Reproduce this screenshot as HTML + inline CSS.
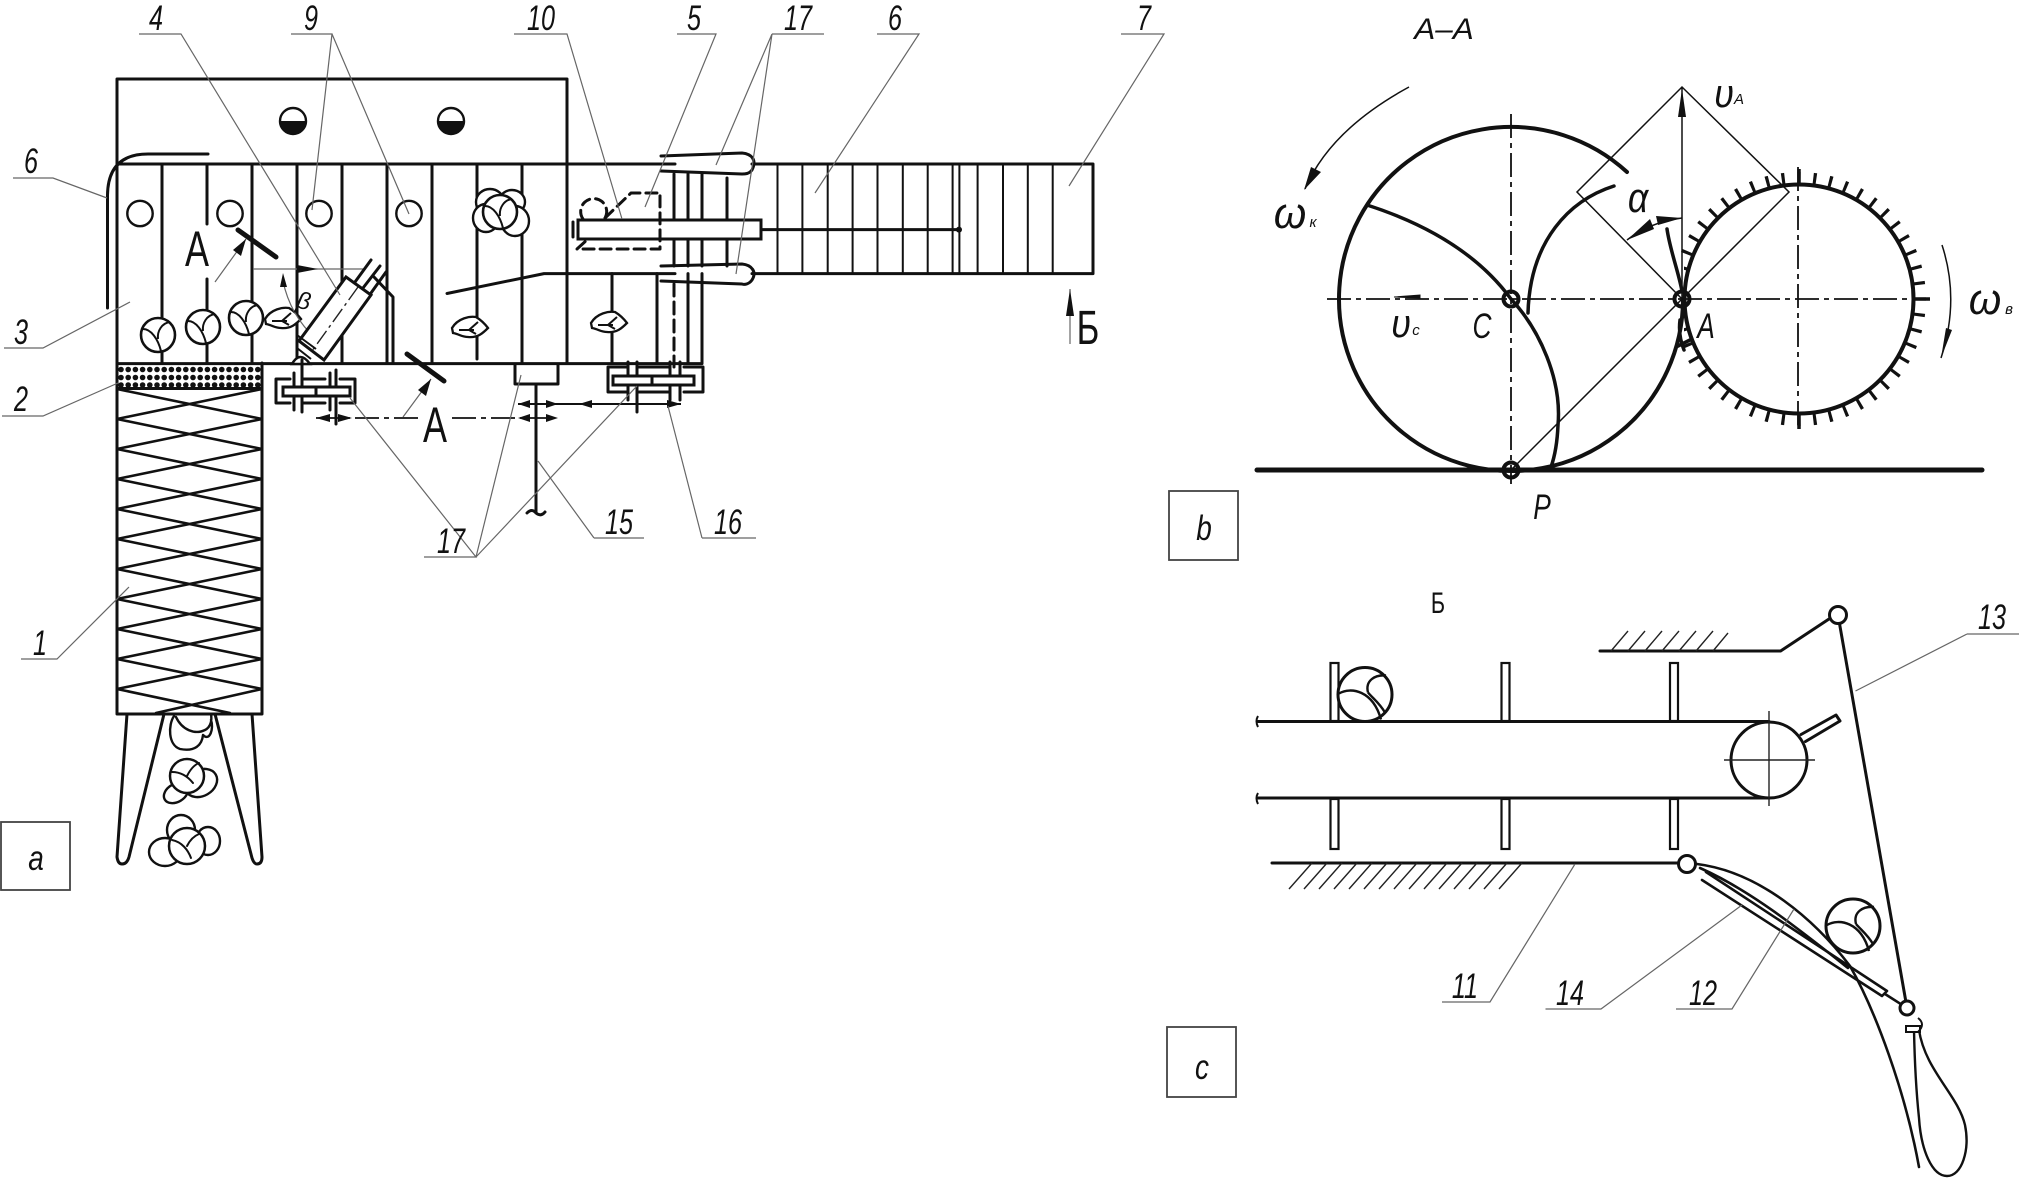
<!DOCTYPE html>
<html><head><meta charset="utf-8"><style>
html,body{margin:0;padding:0;background:#fff}
svg{display:block}
text{font-family:"Liberation Sans",sans-serif;fill:#111}
.l{font-style:italic;font-size:35px;text-anchor:middle}
.s{font-size:50px;text-anchor:middle}
.k{fill:none;stroke:#111;stroke-width:3;stroke-linecap:round;stroke-linejoin:round}
.m{fill:none;stroke:#111;stroke-width:2}
.t{fill:none;stroke:#666;stroke-width:1.2}
.w{fill:#fff;stroke:#111;stroke-width:3}
.d{fill:none;stroke:#111;stroke-width:1.8;stroke-dasharray:24 5 5 5}
.h{fill:none;stroke:#222;stroke-width:1.4}
</style></head><body>
<svg xmlns="http://www.w3.org/2000/svg" width="2020" height="1184" viewBox="0 0 2020 1184">
<defs>
<g id="c"><circle r="17" fill="#fff" stroke="#111" stroke-width="2.6"/><path d="M-15-6C-7-6 0 4 3 16M0 4C-1-4 4-12 12-13" fill="none" stroke="#111" stroke-width="2"/></g>
<g id="c2"><circle r="27" fill="#fff" stroke="#111" stroke-width="3"/><path d="M-26-1C-14-8 8-4 16 25M3-2C0-14 10-20 21-19M3-2C8 4 14 8 20 18" fill="none" stroke="#111" stroke-width="2.400"/></g>
<g id="f"><path d="M-18 1C-12-9 0-11 6-10C11-7 15-3 18 1C13 6 8 11-2 10C-8 10-11 7-17 6Z" fill="#fff" stroke="#111" stroke-width="2.3"/><path d="M-11 3H4M8-5L-1 3L6 7" fill="none" stroke="#111" stroke-width="2"/></g>
<g id="b"><ellipse cx="-10" cy="-10" rx="14" ry="13" fill="#fff" stroke="#111" stroke-width="2.4"/><ellipse cx="12" cy="-10" rx="13" ry="12" fill="#fff" stroke="#111" stroke-width="2.4"/><ellipse cx="15" cy="9" rx="14" ry="15" fill="#fff" stroke="#111" stroke-width="2.4"/><ellipse cx="-14" cy="6" rx="13" ry="14" fill="#fff" stroke="#111" stroke-width="2.4"/><use href="#c"/></g>
</defs>

<!-- main outline -->
<path class="k" d="M117 363V79H567V363M117 164H675M752 164H1093V273.6H752M544 273.6H675M447 293.5L544 273.6M117 363.6H262M262 363.6H702"/>
<!-- dividers -->
<path class="k" d="M162 164V363M207 164V224M207 279V363M252 164V363M297 164V363M342 164V363M387 164V363M432 164V363M477 164V359M522 164V363M612 273.6V363M657 273.6V363M688 273.6V363M702 273.6V363M674 174V220M688 174V220M702 174V220M727 178V220M674 239V266M688 239V266M702 239V266M727 239V266"/>
<path d="M674 284V367" class="k" stroke-dasharray="12 6"/>
<path class="m" d="M777.5 164V273.6M802.4 164V273.6M827.7 164V273.6M852.6 164V273.6M877.5 164V273.6M902.8 164V273.6M927.7 164V273.6M952.6 164V273.6M959.4 164V273.6M977.6 164V273.6M1003 164V273.6M1027.8 164V273.6M1052.7 164V273.6"/>
<!-- guides -->
<path class="k" d="M661 156L742 153C752 154 757 160 752 170C749 174 745 174 742 174L661 171"/>
<path class="k" d="M661 266L742 264C752 265 757 272 752 280C749 284 745 285 742 284L661 281"/>
<!-- bar 10 -->
<rect class="w" x="578" y="220" width="183" height="19"/>
<path class="k" d="M573 222V237M761 229.6H959"/>
<circle cx="959" cy="229.6" r="3" fill="#111"/>
<path class="k" stroke-dasharray="11 6" d="M605 218L631 193H660V249H577L588 239"/>
<path class="k" stroke-dasharray="9 6" d="M583 219A13 13 0 1 1 605 218"/>
<!-- belt 6 -->
<path class="k" d="M208 154H148Q108 154 107.500 195V308"/>
<!-- pods circles -->
<g fill="#fff" stroke="#111" stroke-width="2.4">
<circle cx="140" cy="213.500" r="12.700"/><circle cx="230" cy="213.500" r="12.700"/><circle cx="319" cy="213.500" r="12.700"/><circle cx="409" cy="213.500" r="12.700"/>
<circle cx="293" cy="121" r="13"/><circle cx="451" cy="121" r="13"/></g>
<path d="M280 121H306A13 13 0 0 1 280 121ZM438 121H464A13 13 0 0 1 438 121Z" fill="#111"/>
<use href="#b" x="500" y="212"/>
<use href="#c" x="158" y="335"/><use href="#c" x="203" y="327"/><use href="#c" x="246" y="318"/>
<use href="#f" x="283" y="318"/><use href="#f" x="470" y="327"/><use href="#f" x="609" y="322"/>
<!-- A section marks -->
<text class="s" x="197" y="266" transform="translate(197 0) scale(.72 1) translate(-197 0)">А</text>
<text class="s" x="435" y="442" transform="translate(435 0) scale(.72 1) translate(-435 0)">А</text>
<path d="M238 230L276 257M407 354L444 381" class="k" style="stroke-width:5"/>
<path class="t" d="M215 282L246 239M403 417L431 379"/>
<path d="M246 239L233 250L241 256ZM431 379L418 390L426 396Z" fill="#111"/>
<!-- cylinder 4 -->
<path class="t" d="M253 269H364M283 281Q290 315 316 339"/>
<path d="M297 265L318 269L297 273ZM283 273L280 287L287 287Z" fill="#111"/>
<text class="l" style="font-size:24px" x="304" y="309" transform="rotate(12 304 300)">β</text>
<path class="k" d="M374 277L393 297V363"/>
<path class="k" d="M355 282L371 260M363 288L380 266M371 293L386 272"/>
<path class="w" d="M346 277L371 295L324 360L299 341Z"/>
<path class="h" stroke-dasharray="16 4 3 4" d="M358 287L312 351"/>
<path class="m" d="M297 335L316 349M297 348L311 359"/>
<path d="M292 364Q300 350 310 364Z" fill="#fff" stroke="#111" stroke-width="2.500"/>
<!-- hopper -->
<path class="k" d="M117 363V714H262V363M117 388.500H262"/>
<path stroke="#111" stroke-width="5.600" stroke-linecap="round" stroke-dasharray="0 7.200" d="M121 369.500H260M121 377.500H260M121 385H260" fill="none"/>
<path class="k" style="stroke-width:2.600" d="M117 389L262 419M262 389L117 419M117 419L262 449M262 419L117 449M117 449L262 479M262 449L117 479M117 479L262 509M262 479L117 509M117 509L262 539M262 509L117 539M117 539L262 569M262 539L117 569M117 569L262 599M262 569L117 599M117 599L262 629M262 599L117 629M117 629L262 659M262 629L117 659M117 659L262 689M262 659L117 689M117 689L230 713M262 689L156 713"/>
<path class="k" d="M127 714L117 857Q118 864 122 864Q127 864 129 857L164 714M215 714L252 858Q254 864 257 864Q262 864 262 857L252 714"/>
<!-- hopper cabbages -->
<path class="k" style="stroke-width:2.400" d="M174 716C168 725 168 745 180 749C195 752 202 745 203 735C210 742 214 728 211 720M176 717C182 730 195 735 205 730C211 727 212 720 211 714"/>
<ellipse class="w" style="stroke-width:2.400" cx="176" cy="793" rx="13" ry="9" transform="rotate(-30 176 793)"/>
<ellipse class="w" style="stroke-width:2.400" cx="201" cy="783" rx="17" ry="13" transform="rotate(-30 201 783)"/>
<circle cx="187" cy="776" r="17" class="w" style="stroke-width:2.500"/>
<path class="k" style="stroke-width:2" d="M172 772C182 772 189 778 193 783M187 776C190 770 194 765 199 763"/>
<ellipse class="w" style="stroke-width:2.400" cx="181" cy="830" rx="14" ry="15"/><ellipse class="w" style="stroke-width:2.400" cx="165" cy="852" rx="16" ry="14"/><ellipse class="w" style="stroke-width:2.400" cx="208" cy="841" rx="12" ry="14"/>
<circle cx="187" cy="846" r="18" class="w" style="stroke-width:2.500"/>
<path class="k" style="stroke-width:2" d="M172 840C182 842 188 850 191 858M187 846C190 840 194 836 199 834"/>
<!-- left gearbox -->
<path class="k" d="M290 379H276V403H290M303 379H325M340 379H355V403H340M303 403H325M294 373V410M302 360V412M330 373V410M336 370V424"/>
<rect class="w" x="283" y="387" width="67" height="9"/><path class="k" d="M316 387V396"/>
<!-- right gearbox -->
<path class="k" d="M628 367H608V392H628M639 367H670M684 367H703V392H684M639 392H670M628 362V400M637 362V412M670 362V400M680 362V400"/>
<rect class="w" x="613" y="376" width="81" height="9"/><path class="k" d="M652 376V385"/>
<!-- centre block 15 -->
<path class="k" d="M515 364V384H558V364M536 384V513M527 513Q532 508 536 513Q541 517 545 512"/>
<!-- arrows -->
<path class="m" d="M518 404H681"/>
<path class="d" d="M316 418H418M452 418H558"/>
<path fill="#111" d="M518 404L530 400V408ZM558 404L546 400V408ZM579 404L592 400V408ZM681 404L667 400V408ZM316 418L330 414V422ZM352 418L338 414V422ZM518 418L530 414V422ZM558 418L546 414V422Z"/>
<!-- b arrow -->
<path class="t" d="M1070 289V344"/><path d="M1070 289L1066 316H1074Z" fill="#111"/>
<text class="s" style="font-size:48px" x="1088" y="344" transform="translate(1088 0) scale(.72 1) translate(-1088 0)">Б</text>

<!-- leaders -->
<path class="t" d="M139 34H181L340 295M291 34H332L312 210M332 34L409 214M514 34H567L622 219M677 34H716L645 207M772 34H824M772 34L716 165M772 34L736 274M877 34H919L815 193M1121 34H1164L1069 186M13 178H53L107 198M4 348H43L130 302M2 416H43L118 383M21 659H57L129 587M702 538H756M702 538L668 406M594 538H644M594 538L538 461M424 557H476L350 398M476 557L521 375M476 557L637 386"/>
<g>
<text class="l" transform="translate(156 30) scale(.72 1)">4</text>
<text class="l" transform="translate(311 30) scale(.72 1)">9</text>
<text class="l" transform="translate(541 30) scale(.72 1)">10</text>
<text class="l" transform="translate(694 30) scale(.72 1)">5</text>
<text class="l" transform="translate(798 30) scale(.72 1)">17</text>
<text class="l" transform="translate(895 30) scale(.72 1)">6</text>
<text class="l" transform="translate(1144 30) scale(.72 1)">7</text>
<text class="l" transform="translate(31 173) scale(.72 1)">6</text>
<text class="l" transform="translate(21 344) scale(.72 1)">3</text>
<text class="l" transform="translate(21 411) scale(.72 1)">2</text>
<text class="l" transform="translate(40 655) scale(.72 1)">1</text>
<text class="l" transform="translate(619 534) scale(.72 1)">15</text>
<text class="l" transform="translate(728 534) scale(.72 1)">16</text>
<text class="l" transform="translate(451 553) scale(.72 1)">17</text>
</g>
<!-- panel a -->
<rect x="1" y="822" width="69" height="68" fill="none" stroke="#444" stroke-width="1.800"/>
<text class="l" transform="translate(36 870) scale(.8 1)">a</text>

<!-- ===== A-A ===== -->
<text class="l" style="font-size:30px" transform="translate(1444 39) scale(1.05 1)">А–А</text>
<circle cx="1799" cy="299" r="120.500" fill="none" stroke="#111" stroke-width="13" pathLength="48" stroke-dasharray=".2 .8" stroke-dashoffset=".1"/>
<path d="M1799 413V429M1799 185V169M1913 299H1930" stroke="#111" stroke-width="3.500" fill="none"/>
<rect x="1650" y="256" width="34" height="88" fill="#fff"/>
<circle cx="1799" cy="299" r="114.500" fill="none" stroke="#111" stroke-width="4"/>
<path class="k" style="stroke-width:4" d="M1627 172A172 172 0 1 0 1683 299"/>
<path class="k" style="stroke-width:3.500" d="M1614 186C1570 200 1530 240 1528 313M1367 205C1420 222 1475 250 1511 299C1540 330 1562 380 1558 425Q1557 450 1551 467"/>
<path class="k" style="stroke-width:3.500" d="M1667 229C1670 250 1678 270 1682 291M1680 320Q1678 335 1684 350M1678 346L1690 340"/>
<path d="M1257 470H1982" stroke="#111" stroke-width="5" fill="none" stroke-linecap="round"/>
<path class="m" style="stroke-width:1.500" d="M1682 298V87M1511 470L1789 192L1682 87L1577 192L1682 299"/>
<path d="M1682 89L1678 117H1686Z" fill="#111"/>
<path class="d" d="M1327 299H1929M1511 114V484M1798 167V429"/>
<path d="M1394 297L1420 295V298Z" fill="#111" stroke="#111"/>
<path class="m" style="stroke-width:1.500" d="M1682 218Q1650 222 1627 240"/>
<path d="M1627 240L1650 219L1654 229ZM1682 218L1656 216L1658 225Z" fill="#111"/>
<g fill="none" stroke="#111" stroke-width="4"><circle cx="1511" cy="299" r="7.500"/><circle cx="1682" cy="299" r="7.500"/><circle cx="1511" cy="470" r="7.500"/></g>
<path class="m" style="stroke-width:1.500" d="M1409 87Q1330 130 1305 189M1942 245Q1960 300 1941 358"/>
<path d="M1304 190L1311 167L1321 172ZM1941 358L1946 328L1952 330Z" fill="#111"/>
<text class="l" style="font-size:40px" transform="translate(1724 107) scale(.9 1)">υ</text>
<text class="l" style="font-size:15px" x="1739" y="104">А</text>
<text class="l" style="font-size:44px" transform="translate(1290 228) scale(.95 1)">ω</text>
<text class="l" style="font-size:15px" x="1313" y="227">к</text>
<text class="l" style="font-size:44px" transform="translate(1985 314) scale(.95 1)">ω</text>
<text class="l" style="font-size:15px" x="2009" y="314">в</text>
<text class="l" style="font-size:42px" transform="translate(1638 212) scale(.85 1)">α</text>
<text class="l" style="font-size:40px" transform="translate(1401 337) scale(.9 1)">υ</text>
<text class="l" style="font-size:15px" x="1416" y="335">с</text>
<text class="l" transform="translate(1482 338) scale(.75 1)">C</text>
<text class="l" transform="translate(1706 338) scale(.75 1)">A</text>
<text class="l" transform="translate(1542 519) scale(.75 1)">P</text>
<rect x="1169" y="491" width="69" height="69" fill="none" stroke="#444" stroke-width="1.800"/>
<text class="l" transform="translate(1204 540) scale(.8 1)">b</text>

<!-- ===== Б ===== -->
<text class="l" style="font-style:normal;font-size:30px" transform="translate(1438 613) scale(.72 1)">Б</text>
<path class="k" d="M1600 651H1780.600L1829 619"/>
<path class="h" d="M1611 651L1628 631M1628 651L1645 631M1645 651L1662 631M1662 651L1679 631M1679 651L1696 631M1696 651L1713 631M1713 651L1728 633"/>
<path class="k" d="M1838 615L1907 1008"/>
<path class="k" d="M1258 721.500H1769M1258 798H1769"/>
<path class="m" d="M1258 716Q1255 721 1258 727M1258 793Q1255 798 1258 804"/>
<g fill="#fff" stroke="#111" stroke-width="2.200"><rect x="1330.500" y="663" width="8" height="58"/><rect x="1501.500" y="663" width="8" height="58"/><rect x="1670" y="663" width="8" height="58"/><rect x="1330.500" y="799" width="8" height="50"/><rect x="1501.500" y="799" width="8" height="50"/><rect x="1670" y="799" width="8" height="50"/></g>
<use href="#c2" x="1365" y="694.500"/>
<path class="k" d="M1801 734.500L1836 715L1840 721L1805.500 741.500"/>
<circle cx="1769" cy="760" r="38" class="w"/>
<path class="h" d="M1724 760H1815M1769 711V806"/>
<path class="k" d="M1272 863H1678"/>
<path class="h" d="M1289 889L1312 863M1304 889L1327 863M1319 889L1342 863M1334 889L1357 863M1349 889L1372 863M1364 889L1387 863M1379 889L1402 863M1394 889L1417 863M1409 889L1432 863M1424 889L1447 863M1439 889L1462 863M1454 889L1477 863M1469 889L1492 863M1484 889L1507 863M1499 889L1522 863"/>
<path class="k" style="stroke-width:2.600" d="M1697 864C1760 872 1815 920 1850 966C1875 1010 1905 1090 1919 1167M1700 868C1750 890 1800 930 1848 968"/>
<path class="k" style="stroke-width:2.600" d="M1706 872L1887 991L1882 996L1702 880M1885 994L1907 1008"/>
<circle cx="1687" cy="864" r="8.500" class="w"/>
<circle cx="1838" cy="615" r="8.500" class="w"/>
<circle cx="1907" cy="1008" r="7" class="w"/>
<use href="#c2" x="1853" y="926"/>
<path class="k" style="stroke-width:2.400" d="M1914 1030Q1915 1080 1919 1118C1921 1150 1932 1176 1947 1176C1962 1176 1970 1150 1965 1125C1958 1095 1925 1070 1919 1030"/>
<rect x="1906" y="1026" width="14" height="6" fill="#fff" stroke="#111" stroke-width="2"/>
<path class="m" d="M1918 1018Q1926 1024 1918 1032"/>
<path class="t" d="M1967 634H2019M1967 634L1855.500 691M1442 1002H1490L1575 864M1545.500 1009H1601L1742 905M1676 1009H1732L1794 909"/>
<text class="l" transform="translate(1992 629) scale(.72 1)">13</text>
<text class="l" transform="translate(1465 998) scale(.72 1)">11</text>
<text class="l" transform="translate(1570 1005) scale(.72 1)">14</text>
<text class="l" transform="translate(1703 1005) scale(.72 1)">12</text>
<rect x="1167" y="1027" width="69" height="70" fill="none" stroke="#444" stroke-width="1.800"/>
<text class="l" transform="translate(1202 1079) scale(.8 1)">c</text>
</svg>
</body></html>
